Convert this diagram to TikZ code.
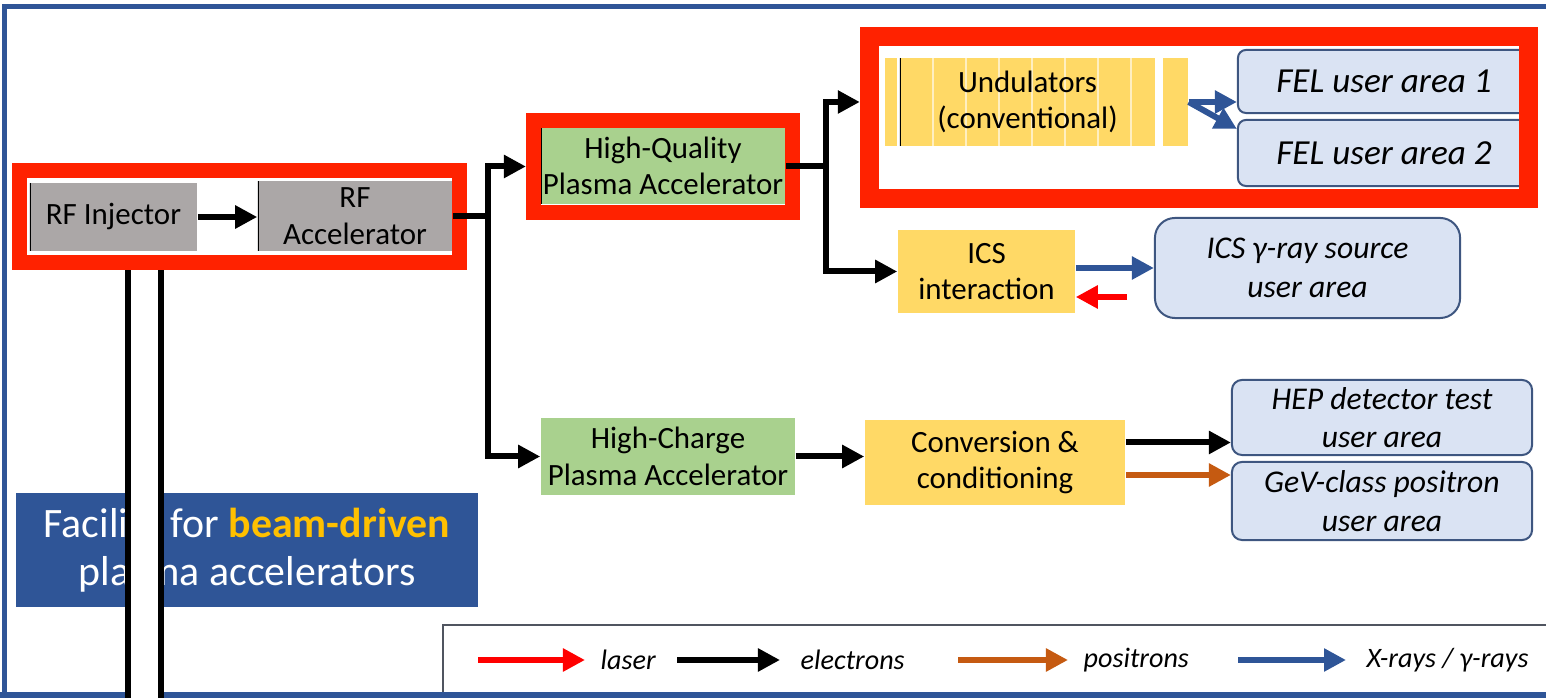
\documentclass[tikz,border=0pt]{standalone}
\usepackage{fontspec}
\setmainfont{Carlito}
\usepackage{xcolor}
\usepackage{tikz}
\usetikzlibrary{arrows.meta}
\definecolor{hired}{HTML}{FF2200}
\definecolor{rfgrey}{HTML}{ABA7A7}
\definecolor{plgreen}{HTML}{A9D18E}
\definecolor{ugold}{HTML}{FFD966}
\definecolor{userblue}{HTML}{DAE3F3}
\definecolor{userline}{HTML}{3E5680}
\definecolor{frameblue}{HTML}{2F5597}
\definecolor{facyellow}{HTML}{FFC000}
\definecolor{posbrown}{HTML}{C55A11}
\definecolor{xblue}{HTML}{2F5597}
\definecolor{leggrey}{HTML}{505560}
\tikzset{ box/.style = {rectangle, inner sep=0pt, align=center, font=\fontsize{8.8}{10.4}\selectfont} }
\tikzset{ leftbar/.style = {path picture={\draw[line width=0.25mm] (path picture bounding box.north west) -- (path picture bounding box.south west);}} }
\tikzset{ stripes/.style = {path picture={\foreach \k in {1,...,7} \draw[white, opacity=0.6, line width=0.15mm] ([xshift=\k*3.3mm]path picture bounding box.south west) -- ([xshift=\k*3.3mm]path picture bounding box.north west);
        \draw[line width=0.25mm] (path picture bounding box.north west) -- (path picture bounding box.south west);}} }
\tikzset{ rfbox/.style = {box, fill=rfgrey, leftbar} }
\tikzset{ plbox/.style = {box, fill=plgreen} }
\tikzset{ ybox/.style = {box, fill=ugold} }
\tikzset{ userbox/.style = {rectangle, rounded corners=0.8mm, draw=userline, line width=0.2mm, fill=userblue, inner sep=0pt, align=center, font=\fontsize{9}{11}\selectfont\itshape} }
\tikzset{ hilite/.style = {rectangle, draw=hired, inner sep=0pt} }
\tikzset{ legtext/.style = {inner sep=0pt, anchor=west, font=\fontsize{8}{10}\selectfont\itshape} }
\tikzset{ beam/.style = {line width=0.6mm, -{Triangle[length=2.2mm,width=2.2mm]}} }
\tikzset{ electrons/.style = {beam, draw=black} }
\tikzset{ laser/.style = {beam, draw=red, -{Triangle[length=2.2mm,width=2.2mm,fill=red]}} }
\tikzset{ positrons/.style = {beam, draw=posbrown} }
\tikzset{ xrays/.style = {beam, draw=xblue} }

\begin{document}
\begin{tikzpicture}[x=0.01cm, y=-0.01cm]
        \useasboundingbox (0,0) rectangle (1546,698);
        % RF front end
        \node[rfbox, minimum width=1.67cm, minimum height=0.68cm] (inj) at (113.5,217) {RF Injector};
        \node[rfbox, minimum width=1.94cm, minimum height=0.70cm] (acc) at (355,216) {RF\\Accelerator};
        % plasma stages
        \node[plbox, leftbar, minimum width=2.44cm, minimum height=0.76cm] (hq) at (663,166) {High-Quality\\Plasma Accelerator};
        \node[plbox, minimum width=2.54cm, minimum height=0.77cm] (hc) at (668,456.5) {High-Charge\\Plasma Accelerator};
        % undulators and conversion
        \node[ybox, minimum width=0.12cm, minimum height=0.88cm] (unda) at (891,102) {};
        \node[ybox, stripes, minimum width=2.55cm, minimum height=0.88cm] (und) at (1027.5,102) {Undulators\\(conventional)};
        \node[ybox, minimum width=0.25cm, minimum height=0.88cm] (undb) at (1175.5,102) {};
        \node[ybox, minimum width=1.77cm, minimum height=0.83cm] (ics) at (986.5,271.5) {ICS\\interaction};
        \node[ybox, minimum width=2.60cm, minimum height=0.85cm] (conv) at (995,462.5) {Conversion \&\\conditioning};
        % user areas
        \node[userbox, font=\fontsize{10}{12}\selectfont\itshape, minimum width=2.92cm, minimum height=0.63cm] (fel1) at (1384,81.5) {FEL user area 1};
        \node[userbox, font=\fontsize{10}{12}\selectfont\itshape, minimum width=2.92cm, minimum height=0.66cm] (fel2) at (1384,153) {FEL user area 2};
        \node[userbox, rounded corners=2mm, minimum width=3.05cm, minimum height=1.00cm] (icsu) at (1307.5,268) {ICS γ-ray source\\user area};
        \node[userbox, rounded corners=1mm, minimum width=3.00cm, minimum height=0.75cm] (hep) at (1382,417.5) {HEP detector test\\user area};
        \node[userbox, rounded corners=1mm, minimum width=3.00cm, minimum height=0.78cm] (pos) at (1382,501) {GeV-class positron\\user area};
        % beam lines
        \draw[electrons] (inj.east) -- (inj.east -| acc.west);
        \draw[electrons] (acc.east) -- ++(35,0) |- (hc.west);
        \draw[electrons] (hq.east) -- ++(40,0) |- (ics.west);
        \draw[xrays] (undb.east) -- (undb.east -| fel1.west);
        \draw[xrays] (undb.east) -- ([yshift=-1mm]fel2.north west);
        \draw[xrays] (ics.east |- icsu.west) -- (icsu.west);
        \coordinate (lsr) at (1127,297);
        \draw[laser] (lsr) -- (lsr -| ics.east);
        \draw[electrons] (hc.east) -- (hc.east -| conv.west);
        \draw[electrons] ([yshift=2mm]conv.east) -- ([yshift=2mm]conv.east -| hep.west);
        \draw[positrons] ([yshift=-1.25mm]conv.east) -- ([yshift=-1.25mm]conv.east -| pos.west);
        % title
        \node[fill=frameblue, text=white, minimum width=4.62cm, minimum height=1.14cm, align=center, font=\fontsize{11.9}{13.6}\selectfont] (fac) at (247,550) {Facility for \textcolor{facyellow}{\textbf{beam-driven}}\\plasma accelerators};
        % legend
        \draw[leggrey, line width=0.25mm] (1560,625) -- (443,625) -- (443,698);
        \node[legtext] (tlaser) at (600,660) {laser};
        \node[legtext] (telec) at (800,660) {electrons};
        \node[legtext] (tpos) at (1083,660) {positrons};
        \node[legtext] (txray) at (1366,660) {X-rays / γ-rays};
        \coordinate (llaser) at (478,660);
        \coordinate (lelec) at (677,660);
        \coordinate (lpos) at (958,660);
        \coordinate (lxray) at (1238,660);
        \draw[laser] (llaser) -- ([xshift=-1.5mm]tlaser.west);
        \draw[electrons] (lelec) -- ([xshift=-2mm]telec.west);
        \draw[positrons] (lpos) -- ([xshift=-1.5mm]tpos.west);
        \draw[xrays] (lxray) -- ([xshift=-2mm]txray.west);
        % outer frame
        \draw[frameblue, line width=0.5mm] (4.5,698) -- (4.5,7) -- (1546,7);
        \draw[frameblue, line width=0.6mm] (0,695) -- (1546,695);
        % double line under the injector
        \fill[white] (128,270) rectangle (161,698);
        \draw[line width=0.6mm] (128,270) -- (128,698) (161,270) -- (161,698);
        % highlights
        \node[hilite, line width=1.5mm, outer sep=0.75mm, minimum width=4.40cm, minimum height=0.92cm] (hl1) at (239.5,216.5) {};
        \node[hilite, line width=1.5mm, outer sep=0.75mm, minimum width=2.59cm, minimum height=0.92cm] (hl2) at (663,166.5) {};
        \node[hilite, line width=1.9mm, outer sep=0.95mm, minimum width=6.59cm, minimum height=1.62cm] (hl3) at (1199,117.5) {};
        \draw[electrons] (acc.east) -- ++(35,0) |- (hl2.west);
        \draw[electrons] (hq.east) -- ++(40,0) |- (hl3.west |- und.west);
\end{tikzpicture}
\end{document}
